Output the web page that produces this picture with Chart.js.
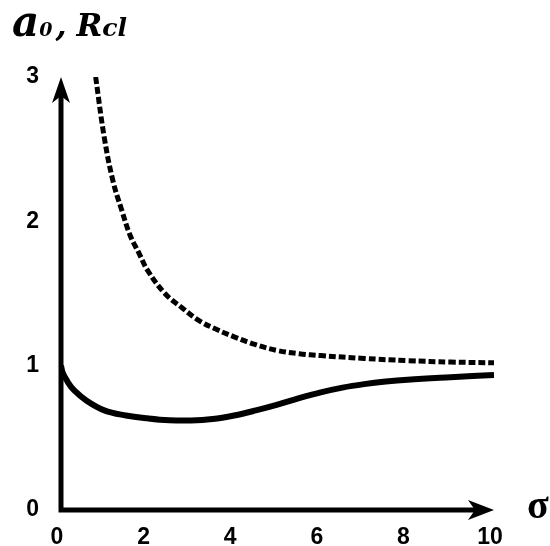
<!DOCTYPE html>
<html lang="en">
<head>
	<title>a0, Rcl vs sigma</title>
	<script src="https://cdn.jsdelivr.net/npm/chart.js"></script>
	<style>
		html, body {
			margin: 0;
			padding: 0;
			background: #fff;
		}
		.wrap {
			position: relative;
			width: 550px;
			height: 546px;
		}
		.title {
			position: absolute;
			left: 12px;
			top: 0px;
			line-height: 44px;
			font-family: "DejaVu Serif", serif;
			font-weight: bold;
			font-style: italic;
			color: #000;
			white-space: nowrap;
		}
		.title .big { font-size: 42px; }
		.title .sub0 { font-size: 19px; }
		.title .comma { font-size: 32px; margin-left: 3px; margin-right: 10px; }
		.title .r { font-size: 31px; }
		.title .subcl { font-size: 25px; }
		.sigma {
			position: absolute;
			left: 527px;
			top: 485px;
			font-family: "Liberation Serif", serif;
			font-weight: bold;
			font-size: 40px;
			line-height: 1;
			color: #000;
		}
	</style>
</head>
<body>
<div class="wrap">
	<canvas id="chart" width="550" height="546"></canvas>
	<div class="title"><span class="big">a</span><span class="sub0">0</span><span class="comma">,</span><span class="r">R</span><span class="subcl">cl</span></div>
	<div class="sigma">σ</div>
</div>

<script>
	// values
	const xTicks = [0, 2, 4, 6, 8, 10];
	const yTicks = [0, 1, 2, 3];

	const dashedX = [0.8, 1.0, 1.2, 1.4, 1.6, 1.8, 2.0, 2.4, 2.8, 3.2, 3.6, 4.0, 4.5, 5.0, 5.5, 6.0, 7.0, 8.0, 9.0, 10.0];
	const dashedY = [3.0, 2.58, 2.28, 2.08, 1.90, 1.78, 1.66, 1.50, 1.40, 1.31, 1.25, 1.20, 1.145, 1.105, 1.083, 1.07, 1.05, 1.035, 1.025, 1.02];

	const solidX = [0, 0.04, 0.15, 0.3, 0.6, 1.0, 1.5, 2.0, 2.5, 3.0, 3.5, 4.0, 4.5, 5.0, 5.5, 6.0, 6.5, 7.0, 7.5, 8.0, 9.0, 10.0];
	const solidY = [1.0, 0.95, 0.89, 0.83, 0.755, 0.69, 0.655, 0.635, 0.622, 0.62, 0.63, 0.655, 0.69, 0.73, 0.775, 0.815, 0.848, 0.872, 0.89, 0.903, 0.92, 0.935];

	function toPoints(xs, ys) {
		return xs.map((x, i) => ({x: x, y: ys[i]}));
	}

	// black axes with arrow heads
	const arrowAxes = {
		id: 'arrowAxes',
		afterDatasetsDraw(chart) {
			const ctx = chart.ctx;
			const xs = chart.scales.x;
			const ys = chart.scales.y;
			const x0 = xs.getPixelForValue(0);
			const y0 = ys.getPixelForValue(0);
			const xEnd = xs.getPixelForValue(10);
			const yEnd = ys.getPixelForValue(3);
			ctx.save();
			ctx.strokeStyle = '#000';
			ctx.fillStyle = '#000';
			ctx.lineWidth = 5;
			ctx.lineCap = 'butt';
			ctx.beginPath();
			ctx.moveTo(x0, y0 + 2.5);
			ctx.lineTo(x0, yEnd + 12);
			ctx.moveTo(x0 - 2.5, y0);
			ctx.lineTo(xEnd - 12, y0);
			ctx.stroke();

			// vertical arrow
			ctx.beginPath();
			ctx.moveTo(x0, yEnd);
			ctx.lineTo(x0 - 9, yEnd + 26);
			ctx.lineTo(x0, yEnd + 19);
			ctx.lineTo(x0 + 9, yEnd + 26);
			ctx.closePath();
			ctx.fill();

			// horizontal arrow
			ctx.beginPath();
			ctx.moveTo(xEnd, y0);
			ctx.lineTo(xEnd - 26, y0 - 10);
			ctx.lineTo(xEnd - 19, y0);
			ctx.lineTo(xEnd - 26, y0 + 10);
			ctx.closePath();
			ctx.fill();
			ctx.restore();
		}
	};

	const tickFont = {family: '"Liberation Sans", Arial, sans-serif', size: 23, weight: 'bold'};

	new Chart(document.getElementById('chart').getContext('2d'), {
		type: 'line',
		data: {
			datasets: [{
				label: 'a0',
				data: toPoints(dashedX, dashedY),
				borderColor: '#000',
				borderWidth: 5,
				borderDash: [7, 3],
				borderCapStyle: 'butt',
				pointRadius: 0,
				fill: false,
				tension: 0.4
			}, {
				label: 'Rcl',
				data: toPoints(solidX, solidY),
				borderColor: '#000',
				borderWidth: 6,
				borderCapStyle: 'butt',
				pointRadius: 0,
				fill: false,
				tension: 0.4
			}]
		},
		options: {
			responsive: false,
			animation: false,
			layout: {
				padding: {left: 0, right: 56, top: 77, bottom: 0}
			},
			plugins: {
				legend: {display: false},
				title: {display: false},
				tooltip: {enabled: false}
			},
			scales: {
				x: {
					type: 'linear',
					min: 0,
					max: 10,
					afterBuildTicks: scale => {
						scale.ticks = xTicks.map(v => ({value: v}));
					},
					afterFit: scale => {
						scale.height = 36;
					},
					grid: {display: false, drawTicks: false},
					border: {display: false},
					ticks: {
						color: '#000',
						font: tickFont,
						padding: 14,
						labelOffset: -4,
						maxRotation: 0
					}
				},
				y: {
					type: 'linear',
					min: 0,
					max: 3,
					afterBuildTicks: scale => {
						scale.ticks = yTicks.map(v => ({value: v}));
					},
					afterFit: scale => {
						scale.width = 61;
					},
					grid: {display: false, drawTicks: false},
					border: {display: false},
					ticks: {
						color: '#000',
						font: tickFont,
						padding: 22
					}
				}
			}
		},
		plugins: [arrowAxes]
	});
</script>
</body>
</html>
